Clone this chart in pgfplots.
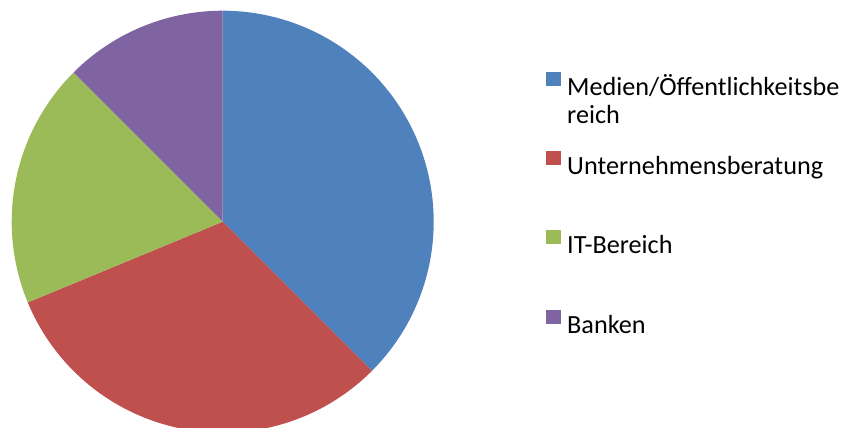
\documentclass[border=0pt]{standalone}
\usepackage{fontspec}
\setmainfont{Carlito}
\usepackage{pgfplots}
\pgfplotsset{compat=1.18}
\definecolor{cBlue}{HTML}{4F81BD}
\definecolor{cRed}{HTML}{C0504D}
\definecolor{cGreen}{HTML}{9BBB59}
\definecolor{cPurple}{HTML}{8064A2}
% shares in percent
\def\vA{37.5}   % Medien/Öffentlichkeitsbereich
\def\vB{31.25}  % Unternehmensberatung
\def\vC{18.75}  % IT-Bereich
\def\vD{12.5}   % Banken
\pgfmathsetmacro\aA{90}
\pgfmathsetmacro\aB{\aA-3.6*\vA}
\pgfmathsetmacro\aC{\aB-3.6*\vB}
\pgfmathsetmacro\aD{\aC-3.6*\vC}
\pgfmathsetmacro\aE{\aD-3.6*\vD}
\begin{document}
\begin{tikzpicture}
\path[use as bounding box] (0,0) rectangle (848bp,428bp);
\clip (0,0) rectangle (848bp,428bp);
\begin{axis}[
  anchor=origin, at={(222.7bp,206.3bp)},
  x=211bp, y=211bp, xmin=-1, xmax=1, ymin=-1, ymax=1,
  hide axis, clip=false,
  legend cell align=left,
  legend style={at={(1.2661,0.8555)}, anchor=north west, draw=none, fill=none,
    inner sep=0pt, outer sep=0pt, row sep=49.8bp, column sep=6.7bp,
    font=\fontsize{26.2bp}{28bp}\selectfont,
    nodes={inner sep=0pt, outer sep=0pt, text height=20bp, text depth=6bp}},
  legend image code/.code={\fill[#1] (0bp,2.5bp) rectangle (14.5bp,16.5bp);},
]
\addplot[fill=cBlue, draw=none, domain=\aA:\aB, samples=120, variable=\t] ({cos(\t)},{sin(\t)}) -- (0,0) -- cycle;
\addlegendentry{\parbox[t]{290bp}{Medien/Öffentlichkeitsbe\\reich}}
\addplot[fill=cRed, draw=none, domain=\aB:\aC, samples=120, variable=\t] ({cos(\t)},{sin(\t)}) -- (0,0) -- cycle;
\addlegendentry{Unternehmensberatung}
\addplot[fill=cGreen, draw=none, domain=\aC:\aD, samples=80, variable=\t] ({cos(\t)},{sin(\t)}) -- (0,0) -- cycle;
\addlegendentry{IT-Bereich}
\addplot[fill=cPurple, draw=none, domain=\aD:\aE, samples=60, variable=\t] ({cos(\t)},{sin(\t)}) -- (0,0) -- cycle;
\addlegendentry{Banken}
\end{axis}
\end{tikzpicture}
\end{document}
